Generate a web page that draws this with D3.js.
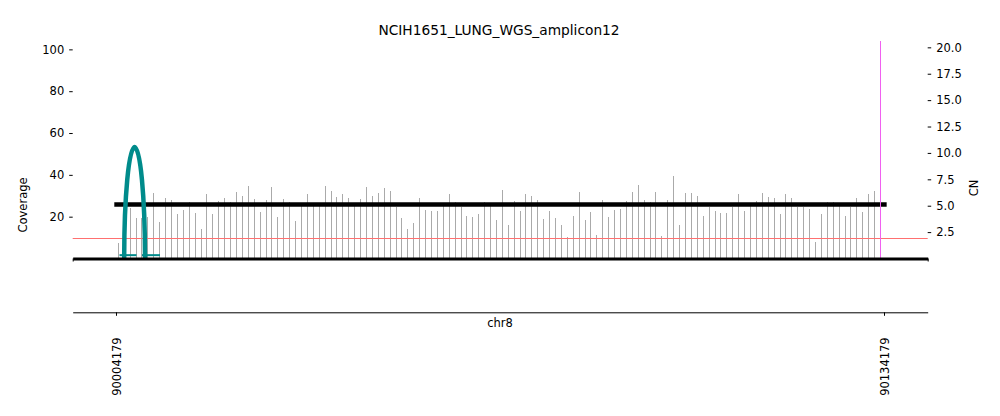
<!DOCTYPE html>
<html>
<head>
<meta charset="utf-8">
<script src="https://d3js.org/d3.v7.min.js"></script>
<style>
    body { margin: 0; background: #fff; }
    text { font-family: "DejaVu Sans", sans-serif; }
</style>
</head>
<body>
<div id="chart"></div>
<script>
"use-strict";

// sample + region
const title = "NCIH1651_LUNG_WGS_amplicon12";
const chromName = "chr8";
const xTickValues = [90004179, 90134179];
const xLimits = [89996850, 90141576];

// y axes
const coverageTicks = [20, 40, 60, 80, 100];
const coverageMax = 104;
const cnTicks = [2.5, 5.0, 7.5, 10.0, 12.5, 15.0, 17.5, 20.0];
const cnMax = 20.6;

// coverage in 1kb bins
const binStart = 90004579;
const binSize = 1000;
const coverage = [
    7.5, 20, 24, 19.2, 19.2, 20, 31.3, 17.6, 28.9, 28.1, 21.3, 23.3, 27.1, 21.7, 14.3, 30.8,
    21.3, 27.6, 28.9, 27.1, 31.9, 30, 34.8, 28.6, 22.1, 28.1,
    34.3, 20, 28.6, 27.1, 18.1, 25, 30.8, 26.5, 25, 34.8, 32.4, 29.5, 30.8, 28.9, 25, 28.6,
    34.3, 30, 31.3, 33.7, 32.4, 24.5, 19.4, 14.3, 17, 28.9,
    23.3, 22.9, 22.9, 25, 30.8, 27, 24.4, 20.5, 20, 21.3, 27, 25, 18.6, 32.9, 16, 27.6,
    22.9, 30.8, 30, 28.1, 19, 22.9, 19.5, 16, 10.5, 20.5, 31.9,
    18.6, 22.2, 11.4, 28.1, 20, 23.2, 23.8, 27.6, 31.9, 35.2, 28.1, 27, 31.9, 10.6, 28.1, 39.4,
    16, 31.3, 31.3, 30, 20.3, 24.4, 22.9, 21.9, 21.9, 24.4,
    31, 22.9, 25, 27.6, 31.3, 29.5, 28.9, 21.4, 30.8, 28.9, 24.4, 24.4, 23.7, 8.1, 21.4, 27.1,
    27.1, 26.5, 20.5, 24.4, 28.9, 22.4, 31, 32.4, 29.5
];

// copy number segments
const cnSegStart = [90003891];
const cnSegEnd = [90134630];
const cnSegValue = [5.12];
const cnBaseline = 2;

// breakpoint graph bits
const arcStart = [90005567];
const arcEnd = [90009088];
const arcHeight = [53.3];
const footStart = [90004771, 90008580];
const footEnd = [90007649, 90011627];
const footCoverage = [1.6, 1.6];
const breakpointPos = [90133620];

const plot = {
    width: 1000,
    height: 416,
    left: 72.7,
    right: 927.7,
    top: 41,
    bottom: 258.5,
    lowerAxisY: 312.3
};

let svgContainer = "";

window.onload = function () {
    svgContainer = d3.select("#chart")
        .append("svg")
        .attr("width", plot.width)
        .attr("height", plot.height);
    drawChart();
};

function drawChart() {
    let xScale = d3.scaleLinear()
        .domain(xLimits)
        .range([plot.left, plot.right]);
    let yCov = d3.scaleLinear()
        .domain([0, coverageMax])
        .range([plot.bottom, plot.top]);
    let yCN = d3.scaleLinear()
        .domain([0, cnMax])
        .range([plot.bottom, plot.top]);

    // coverage bars
    svgContainer.append("g")
        .selectAll("rect")
        .data(coverage)
        .enter()
        .append("rect")
        .attr("x", (d, i) => xScale(binStart + i * binSize) - 0.5)
        .attr("width", 1)
        .attr("y", (d) => yCov(d))
        .attr("height", (d) => yCov(0) - yCov(d))
        .attr("fill", "#aaaaaa")
        .attr("shape-rendering", "crispEdges");

    // CN = 2 reference
    let yBase = Math.ceil(yCN(cnBaseline)) + 0.5;
    svgContainer.append("line")
        .attr("x1", plot.left)
        .attr("x2", plot.right)
        .attr("y1", yBase)
        .attr("y2", yBase)
        .attr("stroke", "#ff7070")
        .attr("stroke-width", 1);

    // CN segments
    svgContainer.append("g")
        .selectAll("line")
        .data(cnSegValue)
        .enter()
        .append("line")
        .attr("x1", (d, i) => xScale(cnSegStart[i]))
        .attr("x2", (d, i) => xScale(cnSegEnd[i]))
        .attr("y1", (d) => yCN(d))
        .attr("y2", (d) => yCN(d))
        .attr("stroke", "black")
        .attr("stroke-width", 4.5);

    // teal feet at the bottom
    svgContainer.append("g")
        .selectAll("line")
        .data(footCoverage)
        .enter()
        .append("line")
        .attr("x1", (d, i) => xScale(footStart[i]))
        .attr("x2", (d, i) => xScale(footEnd[i]))
        .attr("y1", (d) => yCov(d))
        .attr("y2", (d) => yCov(d))
        .attr("stroke", "#008b8b")
        .attr("stroke-width", 2);

    // SV arcs (half ellipses)
    svgContainer.append("g")
        .selectAll("path")
        .data(arcHeight)
        .enter()
        .append("path")
        .attr("d", (d, i) => {
            let x1 = xScale(arcStart[i]);
            let x2 = xScale(arcEnd[i]);
            let rx = (x2 - x1) / 2;
            let ry = yCov(0) - yCov(d);
            return "M" + x1 + "," + yCov(0) + " A" + rx + "," + ry + " 0 0 1 " + x2 + "," + yCov(0);
        })
        .attr("fill", "none")
        .attr("stroke", "#008b8b")
        .attr("stroke-width", 4.5);

    // breakpoint marker
    svgContainer.append("g")
        .selectAll("line")
        .data(breakpointPos)
        .enter()
        .append("line")
        .attr("x1", (d) => xScale(d))
        .attr("x2", (d) => xScale(d))
        .attr("y1", plot.top)
        .attr("y2", plot.bottom)
        .attr("stroke", "#f060f0")
        .attr("stroke-width", 1)
        .attr("shape-rendering", "crispEdges");

    drawAxes(xScale, yCov, yCN);
    makeLabels();
}

function drawAxes(xScale, yCov, yCN) {
    let leftAxis = d3.axisLeft(yCov)
        .tickValues(coverageTicks)
        .tickSize(3.5)
        .tickPadding(5)
        .tickFormat(d3.format("d"));
    let gl = svgContainer.append("g")
        .attr("transform", "translate(" + plot.left + ",0)")
        .call(leftAxis);
    gl.select(".domain").remove();

    let rightAxis = d3.axisRight(yCN)
        .tickValues(cnTicks)
        .tickSize(3.5)
        .tickPadding(5)
        .tickFormat(d3.format(".1f"));
    let gr = svgContainer.append("g")
        .attr("transform", "translate(" + plot.right + ",0)")
        .call(rightAxis);
    gr.select(".domain").remove();

    [gl, gr].forEach((g) => {
        g.selectAll("text")
            .attr("font-family", "DejaVu Sans")
            .attr("font-size", "11.5px")
            .attr("fill", "black");
        g.selectAll("line").attr("stroke", "black");
    });

    // thick baseline of the coverage panel
    let baseAxis = d3.axisBottom(xScale)
        .tickValues(xLimits)
        .tickSize(3)
        .tickSizeOuter(0)
        .tickFormat("");
    let gb = svgContainer.append("g")
        .attr("transform", "translate(0," + plot.bottom + ")")
        .call(baseAxis);
    gb.select(".domain")
        .attr("stroke", "black")
        .attr("stroke-width", 3);

    // position axis below
    let posAxis = d3.axisBottom(xScale)
        .tickValues(xTickValues)
        .tickSize(3.5)
        .tickSizeOuter(0)
        .tickFormat(d3.format("d"));
    let gp = svgContainer.append("g")
        .attr("transform", "translate(0," + plot.lowerAxisY + ")")
        .call(posAxis);
    gp.select(".domain").attr("stroke", "black");
    gp.selectAll("text")
        .attr("font-family", "DejaVu Sans")
        .attr("font-size", "11.5px")
        .attr("fill", "black")
        .attr("text-anchor", "end")
        .attr("transform", "translate(0,25) rotate(-90)")
        .attr("x", 0)
        .attr("y", 0)
        .attr("dy", "0.35em");
}

function makeLabels() {
    svgContainer.append("text")
        .attr("x", 499)
        .attr("y", 35)
        .attr("text-anchor", "middle")
        .attr("font-size", "13.75px")
        .text(title);

    svgContainer.append("text")
        .attr("x", 500)
        .attr("y", 327)
        .attr("text-anchor", "middle")
        .attr("font-size", "11.5px")
        .text(chromName);

    svgContainer.append("text")
        .attr("transform", "translate(27,205) rotate(-90)")
        .attr("text-anchor", "middle")
        .attr("font-size", "11.5px")
        .text("Coverage");

    svgContainer.append("text")
        .attr("transform", "translate(978,188) rotate(-90)")
        .attr("text-anchor", "middle")
        .attr("font-size", "11.5px")
        .text("CN");
}
</script>
</body>
</html>
